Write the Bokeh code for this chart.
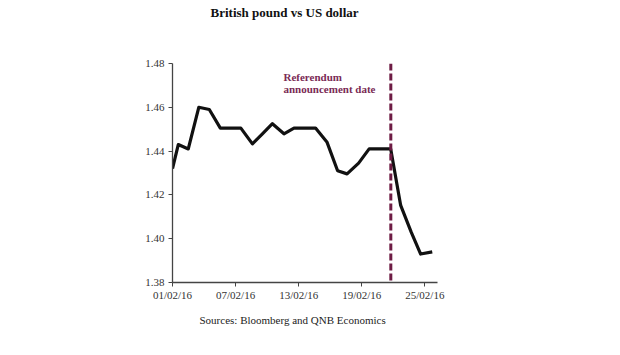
from bokeh.plotting import figure
from bokeh.models import Span, Label, FixedTicker, Range1d, Title
from bokeh.embed import file_html
from bokeh.resources import INLINE

# Days after 01/02/16 and GBP/USD rate
days = [0, 0.55, 1.5, 2.5, 3.5, 4.55, 5.5, 6.5, 7.6, 8.55, 9.5, 10.6, 11.55,
        12.6, 13.6, 14.7, 15.7, 16.6, 17.7, 18.7, 19.7, 20.75, 21.7, 22.7, 23.6, 24.7]
rate = [1.432, 1.443, 1.441, 1.460, 1.459, 1.4505, 1.4505, 1.4505, 1.4433, 1.4479,
        1.4525, 1.4479, 1.4505, 1.4505, 1.4505, 1.444, 1.431, 1.4296, 1.4345,
        1.441, 1.441, 1.441, 1.4152, 1.403, 1.393, 1.394]
tick_days = [0, 6, 12, 18, 24]
tick_labels = ["01/02/16", "07/02/16", "13/02/16", "19/02/16", "25/02/16"]
y_ticks = [1.38, 1.40, 1.42, 1.44, 1.46, 1.48]
announcement_day = 20.76

title_text = "British pound  vs US dollar"
source_text = "Sources: Bloomberg and QNB Economics"
annot_text = "Referendum\nannouncement date"

SERIF = "Liberation Serif"

p = figure(width=620, height=355, output_backend="svg", toolbar_location=None,
           x_range=Range1d(0, 25.2), y_range=Range1d(1.38, 1.48),
           min_border_left=172, min_border_right=183, min_border_top=63,
           min_border_bottom=73, outline_line_color=None,
           background_fill_color="white", border_fill_color="white")
p.xgrid.visible = False
p.ygrid.visible = False
p.title.text = ""
p.title.visible = False

# spacer between plot frame and the title
p.add_layout(Title(text=" ", text_font=SERIF, text_font_size="11px",
                   standoff=28), "above")
p.add_layout(Title(text=title_text, text_font=SERIF, text_font_style="bold",
                   text_font_size="13px", text_color="#111111", align="left",
                   offset=38, vertical_align="top", standoff=0), "above")

p.add_layout(Title(text=source_text, text_font=SERIF, text_font_style="normal",
                   text_font_size="11px", text_color="#222222", align="left",
                   offset=27, standoff=16), "below")

p.line(days, rate, line_color="#111111", line_width=3.2, line_join="round")

p.add_layout(Span(location=announcement_day, dimension="height",
                  line_color="#6e1c44", line_width=3, line_dash="7 3"))

for ax in (p.xaxis[0], p.yaxis[0]):
    ax.axis_line_color = "#444444"
    ax.axis_line_width = 1.3
    ax.major_tick_line_color = "#444444"
    ax.major_tick_out = 4
    ax.major_tick_in = 0
    ax.minor_tick_line_color = None
    ax.major_label_text_font = SERIF
    ax.major_label_text_font_size = "11px"
    ax.major_label_text_color = "#333333"

p.xaxis[0].ticker = FixedTicker(ticks=tick_days)
p.xaxis[0].major_label_overrides = {d: l for d, l in zip(tick_days, tick_labels)}
p.xaxis[0].major_label_standoff = 2
p.yaxis[0].ticker = FixedTicker(ticks=y_ticks)
p.yaxis[0].major_label_overrides = {v: f"{v:.2f}" for v in y_ticks}
p.yaxis[0].major_label_standoff = 4

p.add_layout(Label(x=111, y=212, x_units="screen", y_units="screen",
                   text=annot_text, text_font=SERIF, text_font_style="bold",
                   text_font_size="11px", text_align="left",
                   text_baseline="top", text_color="#7a2a55",
                   text_line_height=1.05))

open("out.html", "w").write(file_html(p, INLINE))
